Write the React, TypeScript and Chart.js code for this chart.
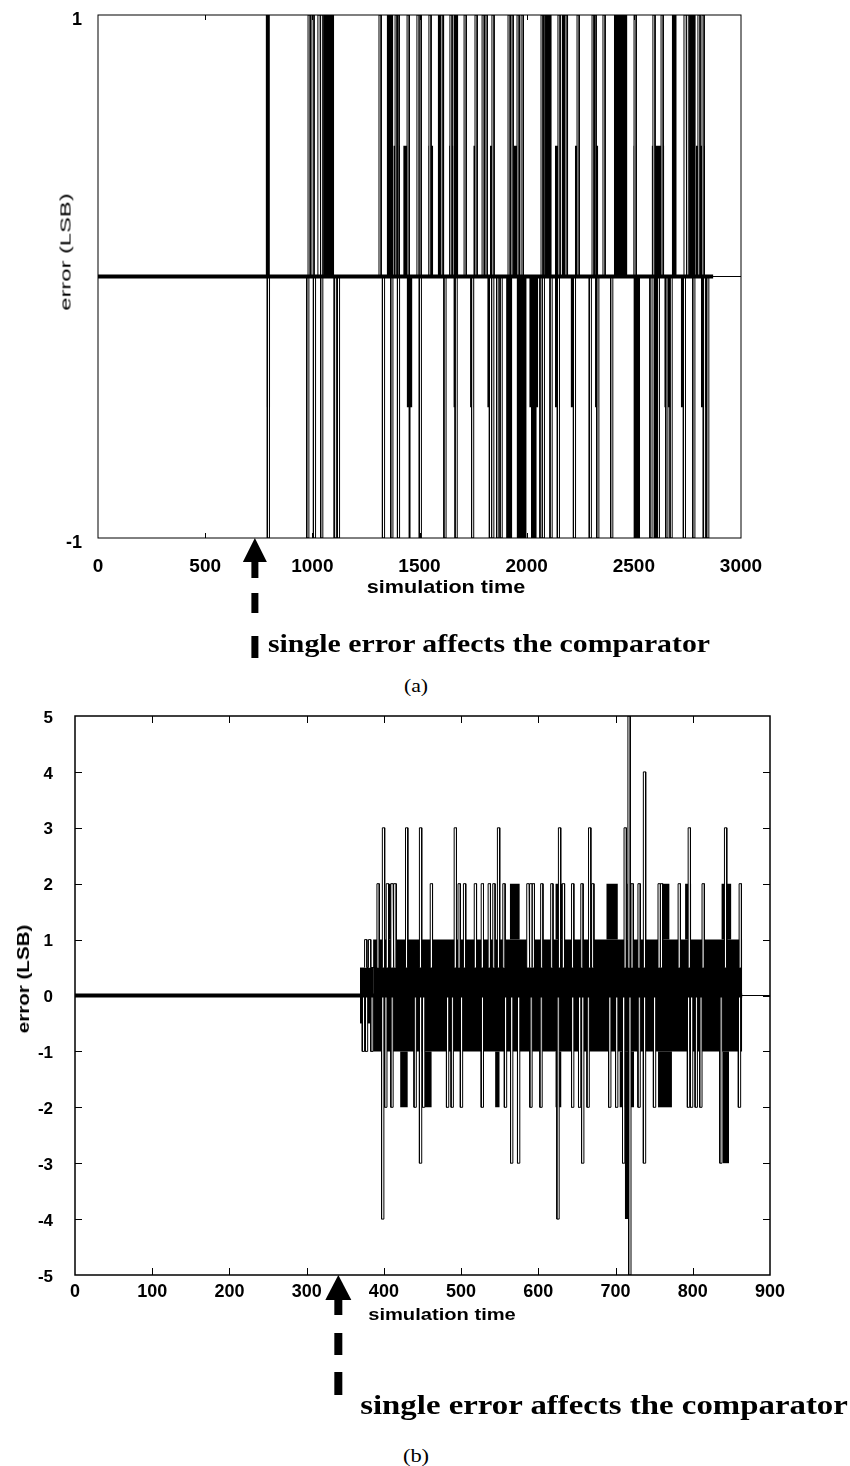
import React, { useEffect, useLayoutEffect, useRef } from 'react';
import { Chart, registerables } from 'chart.js';

Chart.register(...registerables);
Chart.defaults.font.family = "'Liberation Sans', Arial, sans-serif";
Chart.defaults.color = '#000';

type Band = [number, number, number, number]; // [tStart, tEnd, low, high]
type Pulse = [number, number]; // [t, peak value]

// ---------------- (a) ----------------
const xTickValuesA = [0, 500, 1000, 1500, 2000, 2500, 3000];
const xTickLabelsA = ['0', '500', '1000', '1500', '2000', '2500', '3000'];
const yTickValuesA = [-1, 0, 1];
const yTickLabelsA = ['-1', '', '1'];
const signalSpanA: [number, number] = [0, 2870];
const faultTimeA = 732;
const pulseBaseA = 0;
const upPulseTimesA = [980, 998, 1026, 1040, 1311, 1386, 1395, 1442, 1488, 1498, 1544, 1600, 1642, 1708, 1759, 1792, 1806, 1838, 1913, 1927, 1955, 1974, 2067, 2076, 2146, 2179, 2235, 2305, 2314, 2356, 2501, 2589, 2627, 2734, 2748, 2799, 2818];
const downPulseTimesA = [790, 974, 1005, 1039, 1102, 1117, 1327, 1366, 1397, 1499, 1614, 1666, 1743, 1826, 1837, 1860, 1876, 2062, 2073, 2109, 2143, 2218, 2292, 2327, 2392, 2575, 2609, 2649, 2669, 2731, 2775, 2824, 2840];
const bandsA: Band[] = [
  [782, 802, 0, 1], [1054, 1102, 0, 1], [1347, 1378, 0, 1], [1378, 1409, 0, 0.5], [1424, 1448, 0, 0.5],
  [1541, 1564, 0, 0.5], [1585, 1616, 0, 1], [1638, 1658, 0, 0.5], [1658, 1681, 0, 1], [1751, 1771, 0, 0.5],
  [1829, 1848, 0, 0.5], [1938, 1969, 0, 0.5], [2086, 2117, 0, 1], [2132, 2156, 0, 0.5], [2163, 2194, 0, 1],
  [2225, 2241, 0, 0.5], [2322, 2334, 0, 0.5], [2407, 2470, 0, 1], [2498, 2513, 0, 0.5], [2583, 2642, 0, 0.5],
  [2677, 2700, 0, 1], [2762, 2789, 0, 1], [2789, 2832, 0, 0.5],
  [787, 803, -0.5, 0], [1440, 1467, -0.5, 0], [1448, 1459, -1, 0], [1658, 1676, -0.5, 0], [1736, 1754, -0.5, 0],
  [1816, 1844, -0.5, 0], [1904, 1933, -1, 0], [1953, 2000, -1, 0], [2012, 2054, -0.5, 0], [2020, 2047, -1, 0],
  [2132, 2156, -0.5, 0], [2205, 2225, -0.5, 0], [2319, 2337, -0.5, 0], [2498, 2529, -1, 0], [2591, 2622, -1, 0],
  [2642, 2677, -0.5, 0], [2719, 2739, -0.5, 0], [2813, 2847, -0.5, 0],
];

// ---------------- (b) ----------------
const xTickValuesB = [0, 100, 200, 300, 400, 500, 600, 700, 800, 900];
const xTickLabelsB = ['0', '100', '200', '300', '400', '500', '600', '700', '800', '900'];
const yTickValuesB = [-5, -4, -3, -2, -1, 0, 1, 2, 3, 4, 5];
const yTickLabelsB = ['-5', '-4', '-3', '-2', '-1', '0', '1', '2', '3', '4', '5'];
const signalSpanB: [number, number] = [0, 864];
const faultTimeB = 341;
const upPulseBaseB = 0.5;
const downPulseBaseB = 0;
const upPulsesB: Pulse[] = [
  [375, 1], [380, 1], [391, 2], [398, 3], [403, 2], [409, 2], [413, 2], [428, 3], [446, 3], [460, 2],
  [491, 3], [496, 2], [503, 2], [517, 2], [526, 2], [535, 2], [541, 2], [547, 3], [554, 2], [585, 2],
  [589, 2], [592, 2], [603, 2], [616, 2], [626, 3], [631, 2], [643, 2], [655, 2], [665, 3], [669, 2],
  [711, 3], [716, 5], [720, 2], [729, 2], [736, 4], [755, 2], [758, 2], [781, 2], [794, 3], [812, 2],
  [841, 3], [860, 2],
];
const downPulsesB: Pulse[] = [
  [372, -1], [376, -1], [383, -1], [397, -4], [401, -2], [409, -2], [439, -2], [446, -3], [450, -2], [481, -2],
  [487, -2], [499, -2], [526, -2], [556, -2], [564, -3], [573, -3], [589, -2], [602, -2], [624, -4], [643, -2],
  [652, -2], [656, -3], [663, -2], [691, -2], [700, -2], [709, -3], [717, -5], [729, -2], [736, -3], [749, -2],
  [793, -2], [797, -2], [803, -2], [809, -2], [835, -3], [859, -2],
];
const bandsB: Band[] = [
  [369, 386, -0.5, 0.5], [386, 864, -1, 1],
  [406, 415, 1, 2], [563, 576, 1, 2], [622, 632, 1, 2], [688, 703, 1, 2], [715, 722, 1, 2],
  [760, 770, 1, 2], [790, 798, 1, 2], [837, 850, 1, 2],
  [421, 431, -2, -1], [453, 462, -2, -1], [544, 550, -2, -1], [622, 630, -2, -1], [705, 724, -2, -1],
  [712, 720, -4, -1], [755, 773, -2, -1], [839, 847, -3, -1],
];

// ---------------- chart building ----------------
function pulsePoints(pulses: Pulse[], base: number, w: number) {
  const pts: { x: number; y: number }[] = [];
  for (const [t, v] of pulses) {
    pts.push({ x: t, y: base }, { x: t, y: v }, { x: t + w, y: v }, { x: t + w, y: base });
  }
  return pts;
}

function buildConfig(s: any) {
  const datasets: any[] = [];
  s.bands.forEach(([t0, t1, lo, hi]: Band) => {
    datasets.push({
      data: [{ x: t0, y: lo }, { x: t0, y: hi }, { x: t1, y: hi }, { x: t1, y: lo }],
      fill: { value: lo },
      backgroundColor: '#000',
      borderColor: 'rgba(0,0,0,0)',
      borderWidth: 0,
      pointRadius: 0,
      order: 3,
    });
  });
  s.pulseSets.forEach((ps: { pulses: Pulse[]; base: number }) => {
    datasets.push({
      data: pulsePoints(ps.pulses, ps.base, s.pulseW),
      fill: { value: ps.base },
      backgroundColor: '#fff',
      borderColor: '#000',
      borderWidth: 1,
      borderJoinStyle: 'miter',
      pointRadius: 0,
      order: 2,
    });
  });
  datasets.push({
    data: [{ x: s.span[0], y: 0 }, { x: s.span[1], y: 0 }],
    borderColor: '#000',
    borderWidth: 4,
    pointRadius: 0,
    fill: false,
    order: 1,
  });

  const decor = {
    id: 'decor',
    afterDatasetsDraw(chart: any) {
      const { ctx, chartArea, scales } = chart;
      const { left, right, top, bottom } = chartArea;
      ctx.save();
      ctx.strokeStyle = '#000';
      ctx.lineWidth = 1;
      ctx.beginPath();
      s.xTicks.forEach((v: number) => {
        if (v === s.xMin || v === s.xMax) return;
        const px = Math.round(scales.x.getPixelForValue(v)) + 0.5;
        ctx.moveTo(px, bottom);
        ctx.lineTo(px, bottom - s.innerTick);
        ctx.moveTo(px, top);
        ctx.lineTo(px, top + s.innerTick);
      });
      if (s.yInnerTicks) {
        s.yTicks.forEach((v: number) => {
          if (v === s.yMin || v === s.yMax) return;
          const py = Math.round(scales.y.getPixelForValue(v)) + 0.5;
          ctx.moveTo(left, py);
          ctx.lineTo(left + s.innerTick, py);
          ctx.moveTo(right, py);
          ctx.lineTo(right - s.innerTick, py);
        });
      }
      ctx.stroke();
      ctx.lineWidth = s.frameW;
      ctx.strokeRect(left, top, right - left, bottom - top);
      ctx.restore();
    },
    afterDraw(chart: any) {
      const { ctx, chartArea, scales } = chart;
      const ax = scales.x.getPixelForValue(s.faultT);
      const b = chartArea.bottom;
      const a = s.arrow;
      ctx.save();
      ctx.fillStyle = '#000';
      ctx.beginPath();
      ctx.moveTo(ax, b);
      ctx.lineTo(ax - a.hw, b + a.hh);
      ctx.lineTo(ax + a.hw, b + a.hh);
      ctx.closePath();
      ctx.fill();
      a.segs.forEach(([y0, y1]: number[]) => ctx.fillRect(ax - a.sw / 2, b + y0, a.sw, y1 - y0));
      ctx.restore();
    },
  };

  return {
    type: 'line',
    data: { datasets },
    plugins: [decor],
    options: {
      responsive: false,
      animation: false,
      events: [],
      layout: { padding: s.padding },
      plugins: { legend: { display: false }, tooltip: { enabled: false }, title: { display: false } },
      scales: {
        x: {
          type: 'linear',
          min: s.xMin,
          max: s.xMax,
          afterBuildTicks: (ax: any) => { ax.ticks = s.xTicks.map((v: number) => ({ value: v })); },
          afterFit: (ax: any) => { ax.height = s.xAxisH; ax.paddingLeft = 0; ax.paddingRight = 0; },
          ticks: {
            autoSkip: false,
            maxRotation: 0,
            color: '#000',
            padding: s.xTickPad,
            font: { size: s.xTickFont, weight: 'bold' },
            callback: (_v: any, i: number) => s.xLabels[i],
          },
          grid: { display: false, drawTicks: false },
          border: { display: false },
          title: { display: false },
        },
        y: {
          type: 'linear',
          min: s.yMin,
          max: s.yMax,
          afterBuildTicks: (ax: any) => { ax.ticks = s.yTicks.map((v: number) => ({ value: v })); },
          afterFit: (ax: any) => { ax.width = s.yAxisW; ax.paddingTop = 0; ax.paddingBottom = 0; },
          ticks: {
            color: '#000',
            padding: s.yTickPad,
            labelOffset: s.yLabelOffset,
            font: { size: s.yTickFont, weight: 'bold' },
            callback: (_v: any, i: number) => s.yLabels[i],
          },
          grid: {
            drawTicks: false,
            lineWidth: 1,
            color: (c: any) => (c.tick && c.tick.value === 0 ? '#000' : 'rgba(0,0,0,0)'),
          },
          border: { display: false },
          title: { display: false },
        },
      },
    },
  };
}

const specA = {
  xMin: 0, xMax: 3000, yMin: -1, yMax: 1,
  xTicks: xTickValuesA, xLabels: xTickLabelsA, yTicks: yTickValuesA, yLabels: yTickLabelsA,
  bands: bandsA,
  pulseSets: [
    { pulses: upPulseTimesA.map((t) => [t, 1] as Pulse), base: pulseBaseA },
    { pulses: downPulseTimesA.map((t) => [t, -1] as Pulse), base: pulseBaseA },
  ],
  span: signalSpanA, faultT: faultTimeA, pulseW: 10,
  padding: { top: 15, right: 109, bottom: 60, left: 0 },
  yAxisW: 98, xAxisH: 72,
  xTickFont: 19, xTickPad: 17, yTickFont: 18, yTickPad: 16, yLabelOffset: 5,
  frameW: 1, innerTick: 5, yInnerTicks: false,
  arrow: { hw: 12, hh: 24, sw: 7, segs: [[23, 40], [55, 75], [98, 120]] },
};

const specB = {
  xMin: 0, xMax: 900, yMin: -5, yMax: 5,
  xTicks: xTickValuesB, xLabels: xTickLabelsB, yTicks: yTickValuesB, yLabels: yTickLabelsB,
  bands: bandsB,
  pulseSets: [
    { pulses: upPulsesB, base: upPulseBaseB },
    { pulses: downPulsesB, base: downPulseBaseB },
  ],
  span: signalSpanB, faultT: faultTimeB, pulseW: 3,
  padding: { top: 16, right: 80, bottom: 60, left: 0 },
  yAxisW: 75, xAxisH: 65,
  xTickFont: 18, xTickPad: 6, yTickFont: 17, yTickPad: 22, yLabelOffset: 2,
  frameW: 1.5, innerTick: 7, yInnerTicks: true,
  arrow: { hw: 13, hh: 25, sw: 8, segs: [[24, 40], [58, 80], [97, 120]] },
};

function ErrorChart({ spec, top, height }: { spec: any; top: number; height: number }) {
  const ref = useRef<HTMLCanvasElement>(null);
  useEffect(() => {
    const chart = new Chart(ref.current as HTMLCanvasElement, buildConfig(spec) as any);
    return () => chart.destroy();
  }, [spec]);
  return (
    <canvas
      ref={ref}
      width={850}
      height={height}
      style={{ position: 'absolute', left: 0, top, width: 850, height }}
    />
  );
}

const SERIF = "'Liberation Serif', 'Times New Roman', serif";
const SANS = "'Liberation Sans', Arial, sans-serif";

function FitText(props: { text: string; cx: number; cy: number; len: number; size: number; bold?: boolean; family: string; vertical?: boolean }) {
  const { text, cx, cy, len, size, bold, family, vertical } = props;
  const ref = useRef<HTMLSpanElement>(null);
  useLayoutEffect(() => {
    const el = ref.current;
    if (!el) return;
    const natural = el.offsetWidth;
    const k = natural > 0 ? len / natural : 1;
    el.style.transform = `translate(-50%, -50%)${vertical ? ' rotate(-90deg)' : ''} scaleX(${k})`;
  }, [text, len, vertical]);
  return (
    <span
      ref={ref}
      style={{
        position: 'absolute',
        left: cx,
        top: cy,
        whiteSpace: 'nowrap',
        transformOrigin: '50% 50%',
        transform: `translate(-50%, -50%)${vertical ? ' rotate(-90deg)' : ''}`,
        fontFamily: family,
        fontSize: size,
        lineHeight: `${size}px`,
        fontWeight: bold ? 'bold' : 'normal',
        color: '#000',
      }}
    >
      {text}
    </span>
  );
}

export default function App() {
  return (
    <div style={{ position: 'absolute', left: 0, top: 0, width: 850, height: 1466, background: '#fff', overflow: 'hidden' }}>
      <ErrorChart spec={specA} top={0} height={670} />
      <FitText text="error (LSB)" cx={65} cy={252} len={117} size={15} family={SANS} vertical />
      <FitText text="simulation time" cx={446} cy={586} len={158} size={19} bold family={SANS} />
      <FitText text="single error affects the comparator" cx={489} cy={644} len={442} size={26} bold family={SERIF} />
      <FitText text="(a)" cx={416} cy={685} len={24} size={19} family={SERIF} />
      <ErrorChart spec={specB} top={700} height={700} />
      <FitText text="error (LSB)" cx={24} cy={979} len={108} size={16} bold family={SANS} vertical />
      <FitText text="simulation time" cx={442} cy={1314} len={148} size={17} bold family={SANS} />
      <FitText text="single error affects the comparator" cx={604} cy={1405} len={488} size={28} bold family={SERIF} />
      <FitText text="(b)" cx={416} cy={1455} len={26} size={19} family={SERIF} />
    </div>
  );
}
